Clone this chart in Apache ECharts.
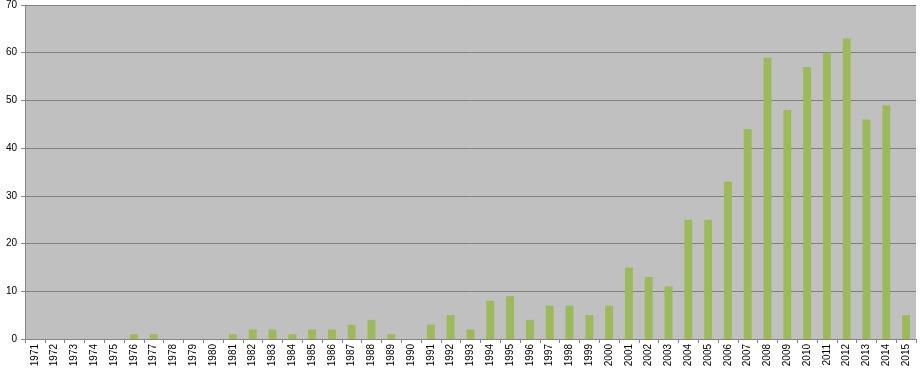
<!DOCTYPE html>
<html><head><meta charset="utf-8">
<script src="https://cdn.jsdelivr.net/npm/echarts@6/dist/echarts.min.js"></script>
<style>html,body{margin:0;padding:0;background:#fff}#c{width:921px;height:378px}</style>
</head><body><div id="c"></div>
<script>
const years = ['1971','1972','1973','1974','1975','1976','1977','1978','1979','1980','1981','1982','1983','1984','1985','1986','1987','1988','1989','1990','1991','1992','1993','1994','1995','1996','1997','1998','1999','2000','2001','2002','2003','2004','2005','2006','2007','2008','2009','2010','2011','2012','2013','2014','2015'];
const counts = [0,0,0,0,0,1,1,0,0,0,1,2,2,1,2,2,3,4,1,0,3,5,2,8,9,4,7,7,5,7,15,13,11,25,25,33,44,59,48,57,60,63,46,49,5];
const yTicks = [0,10,20,30,40,50,60,70];

const chart = echarts.init(document.getElementById('c'));
chart.setOption({
  animation:false,
  backgroundColor:'#ffffff',
  grid:{left:25,right:5,top:5,bottom:39,show:true,backgroundColor:'#c0c0c0',borderWidth:0},
  xAxis:{type:'category',data:years,
    axisLine:{lineStyle:{color:'#868686',width:1}},
    axisTick:{show:true,alignWithLabel:false,length:4,lineStyle:{color:'#868686'}},
    axisLabel:{rotate:90,color:'#000',fontSize:10,fontFamily:'Liberation Sans, Arial',margin:5,interval:0}},
  yAxis:{type:'value',min:yTicks[0],max:yTicks[yTicks.length-1],interval:10,
    axisLine:{show:true,lineStyle:{color:'#868686'}},
    axisTick:{show:true,length:4,lineStyle:{color:'#868686'}},
    splitLine:{lineStyle:{color:'#808080',width:1}},
    axisLabel:{color:'#000',fontSize:10,fontFamily:'Liberation Sans, Arial',margin:8}},
  series:[{type:'bar',data:counts,barWidth:'40%',itemStyle:{color:'#9bbb59'}}]
});
</script></body></html>
